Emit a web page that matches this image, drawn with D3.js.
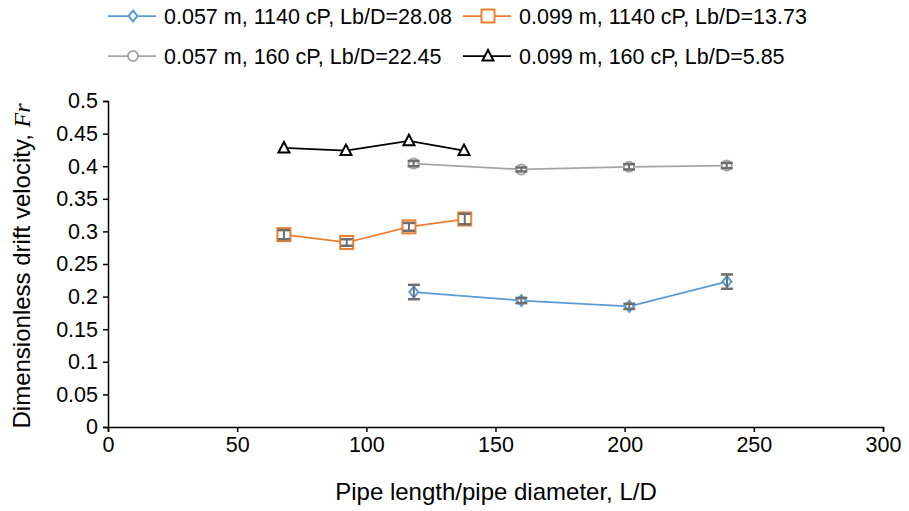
<!DOCTYPE html>
<html>
<head>
<meta charset="utf-8">
<script src="https://cdn.jsdelivr.net/npm/d3@7"></script>
<style>
	body { margin: 0; background: #fff; }
	text { font-family: "Liberation Sans", Arial, sans-serif; fill: #000; }
</style>
</head>
<body>
<svg id="chart" width="909" height="511"></svg>
<script>
// L/D and Fr values for each series
const ldBlue = [118.4, 160, 201.8, 239.6];
const frBlue = [0.207, 0.194, 0.185, 0.223];
const errBlue = [0.011, 0.004, 0.004, 0.011];

const ldOrange = [68.1, 92.4, 116.5, 138.1];
const frOrange = [0.295, 0.283, 0.307, 0.319];
const errOrange = [0.007, 0.005, 0.006, 0.008];

const ldGray = [118.3, 160, 201.7, 239.5];
const frGray = [0.404, 0.395, 0.399, 0.401];
const errGray = [0.004, 0.003, 0.004, 0.004];

const ldBlack = [68.1, 92.1, 116.5, 137.8];
const frBlack = [0.428, 0.424, 0.439, 0.424];

const seriesNames = [
	"0.057 m, 1140 cP, Lb/D=28.08",
	"0.099 m, 1140 cP, Lb/D=13.73",
	"0.057 m, 160 cP, Lb/D=22.45",
	"0.099 m, 160 cP, Lb/D=5.85"
];
const xTicks = [0, 50, 100, 150, 200, 250, 300];
const yTicks = d3.range(0, 0.501, 0.05);

const series = [
	{ name: seriesNames[0], x: ldBlue, y: frBlue, err: errBlue, color: "#5b9bd5", shape: "diamond" },
	{ name: seriesNames[1], x: ldOrange, y: frOrange, err: errOrange, color: "#ed7d31", shape: "square" },
	{ name: seriesNames[2], x: ldGray, y: frGray, err: errGray, color: "#a5a5a5", shape: "circle" },
	{ name: seriesNames[3], x: ldBlack, y: frBlack, err: null, color: "#000000", shape: "triangle" }
];

const margin = { left: 108, right: 26, top: 101, bottom: 84 };
const W = 909, H = 511;
const FS = 21.5;
const svg = d3.select("#chart");

const x = d3.scaleLinear().domain([0, 300]).range([margin.left, W - margin.right]);
const y = d3.scaleLinear().domain([0, 0.5]).range([H - margin.bottom, margin.top]);

// marker drawing, centred on 0,0
function marker(g, shape, color) {
	if (shape === "diamond") {
		g.append("path").attr("d", "M0,-5.5L4.5,0L0,5.5L-4.5,0Z");
	} else if (shape === "square") {
		g.append("rect").attr("x", -6.5).attr("y", -6.5).attr("width", 13).attr("height", 13);
	} else if (shape === "circle") {
		g.append("circle").attr("r", 5);
	} else {
		g.append("path").attr("d", "M0,-6L5.5,4.5L-5.5,4.5Z");
	}
	g.selectAll("*").attr("fill", "#fff").attr("stroke", color).attr("stroke-width", 2);
}

// axes
const xAxis = svg.append("g").attr("transform", `translate(0,${y(0)})`)
	.call(d3.axisBottom(x).tickValues(xTicks).tickSize(5).tickSizeOuter(5).tickPadding(5));
const yAxis = svg.append("g").attr("transform", `translate(${x(0)},0)`)
	.call(d3.axisLeft(y).tickValues(yTicks).tickSize(5).tickSizeOuter(5).tickPadding(5).tickFormat(d => +d.toFixed(2)));
[xAxis, yAxis].forEach(a => {
	a.selectAll("path, line").attr("stroke", "#000").attr("stroke-width", 1.5);
	a.selectAll("text").attr("font-size", FS).attr("font-family", "Liberation Sans, Arial, sans-serif").attr("fill", "#000");
});

// series lines, markers, then error bars on top
const line = d3.line().x(d => x(d[0])).y(d => y(d[1]));
series.forEach(s => {
	const pts = s.x.map((v, i) => [v, s.y[i], s.err ? s.err[i] : 0]);
	svg.append("path").datum(pts).attr("d", line).attr("fill", "none")
		.attr("stroke", s.color).attr("stroke-width", 1.75);
	pts.forEach(p => {
		const g = svg.append("g").attr("transform", `translate(${x(p[0])},${y(p[1])})`);
		marker(g, s.shape, s.color);
	});
	if (s.err) {
		const eb = svg.append("g").attr("stroke", "#6e6e6e").attr("stroke-width", 2.5);
		pts.forEach(p => {
			const cx = x(p[0]), y1 = y(p[1] - p[2]), y2 = y(p[1] + p[2]);
			eb.append("line").attr("x1", cx).attr("x2", cx).attr("y1", y1).attr("y2", y2).attr("stroke-width", 2);
			eb.append("line").attr("x1", cx - 6).attr("x2", cx + 6).attr("y1", y1).attr("y2", y1);
			eb.append("line").attr("x1", cx - 6).attr("x2", cx + 6).attr("y1", y2).attr("y2", y2);
		});
	}
});

// legend, two rows of two
const legendPos = [[108, 16], [463, 16], [108, 56], [463, 56]];
series.forEach((s, i) => {
	const [lx, ly] = legendPos[i];
	const g = svg.append("g").attr("transform", `translate(${lx},${ly})`);
	g.append("line").attr("x1", 0).attr("x2", 48).attr("stroke", s.color).attr("stroke-width", 1.75);
	marker(g.append("g").attr("transform", "translate(25,0)"), s.shape, s.color);
	g.append("text").attr("x", 56).attr("dy", "0.35em").attr("font-size", FS).text(s.name);
});

// axis titles
svg.append("text").attr("x", 496).attr("y", 500).attr("text-anchor", "middle")
	.attr("font-size", 24).text("Pipe length/pipe diameter, L/D");
const yt = svg.append("text").attr("transform", "translate(30,266) rotate(-90)")
	.attr("text-anchor", "middle").attr("font-size", 24);
yt.append("tspan").text("Dimensionless drift velocity, ");
yt.append("tspan").attr("font-family", "Liberation Serif, serif").attr("font-style", "italic").text("Fr");
</script>
</body>
</html>
